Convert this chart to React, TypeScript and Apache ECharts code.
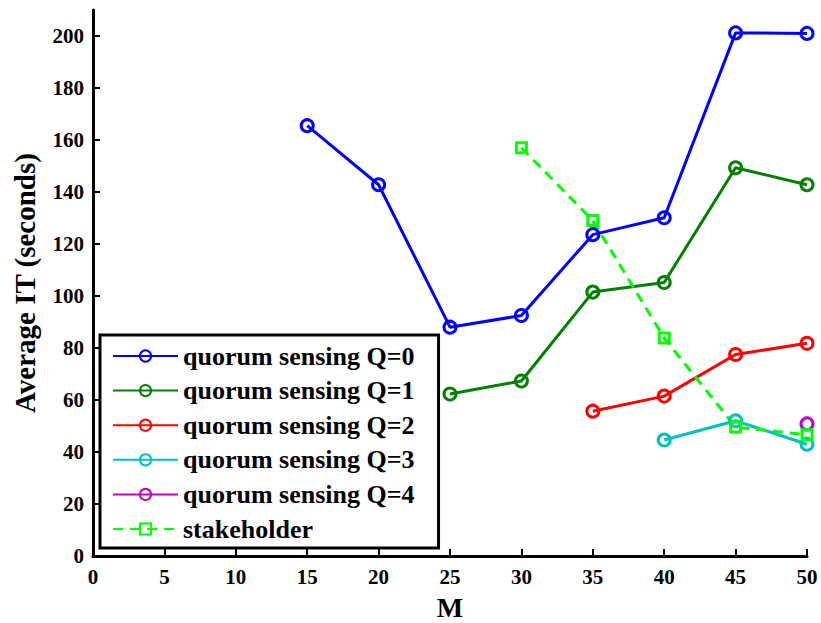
import React, { useEffect, useRef } from "react";
import * as echarts from "echarts";

const q0X = [15, 20, 25, 30, 35, 40, 45, 50];
const q0Y = [165.5, 142.8, 88, 92.5, 123.6, 130.1, 201.2, 201];
const q1X = [25, 30, 35, 40, 45, 50];
const q1Y = [62.3, 67.3, 101.5, 105.2, 149.3, 142.8];
const q2X = [35, 40, 45, 50];
const q2Y = [55.7, 61.5, 77.5, 81.8];
const q3X = [40, 45, 50];
const q3Y = [44.6, 52, 43];
const q4X = [50];
const q4Y = [50.8];
const stX = [30, 35, 40, 45, 50];
const stY = [157, 129, 83.8, 49.6, 46.6];

const seriesNames = [
  "quorum sensing Q=0",
  "quorum sensing Q=1",
  "quorum sensing Q=2",
  "quorum sensing Q=3",
  "quorum sensing Q=4",
  "stakeholder",
];
const seriesColors = ["#0000ff", "#008000", "#ff0000", "#00bfbf", "#bf00bf", "#00ff00"];

const FONT = "'Liberation Serif', 'Times New Roman', serif";

function pairs(xs: number[], ys: number[]) {
  return xs.map((x, i) => [x, ys[i]]);
}

export default function App() {
  const ref = useRef<HTMLDivElement>(null);
  useEffect(() => {
    document.body.style.margin = "0";
    if (!ref.current) return;
    const chart = echarts.init(ref.current, undefined, { renderer: "svg" });
    const allData = [
      pairs(q0X, q0Y),
      pairs(q1X, q1Y),
      pairs(q2X, q2Y),
      pairs(q3X, q3Y),
      pairs(q4X, q4Y),
      pairs(stX, stY),
    ];
    const series = allData.map((d, i) => {
      const isStake = i === 5;
      return {
        name: seriesNames[i],
        type: "line",
        data: d,
        symbol: isStake ? "rect" : "circle",
        symbolSize: isStake ? 10 : 12,
        showAllSymbol: true,
        lineStyle: {
          color: seriesColors[i],
          width: 3,
          type: isStake ? [10, 7] : "solid",
        },
        itemStyle: {
          color: "rgba(255,255,255,0)",
          borderColor: seriesColors[i],
          borderWidth: 3,
        },
        emphasis: { disabled: true },
      };
    });
    chart.setOption({
      animation: false,
      backgroundColor: "#ffffff",
      textStyle: { fontFamily: FONT },
      grid: {
        left: 93,
        right: 14,
        top: 10,
        bottom: 67,
        containLabel: false,
        outerBoundsMode: "none",
      },
      legend: {
        orient: "vertical",
        left: 100,
        top: 335,
        data: seriesNames,
        itemWidth: 65,
        itemHeight: 14,
        itemGap: 8.6,
        padding: [8, 24, 6, 12],
        borderColor: "#000",
        borderWidth: 3,
        backgroundColor: "#fff",
        textStyle: {
          fontFamily: FONT,
          fontWeight: "bold",
          fontSize: 26,
          color: "#000",
          lineHeight: 26,
        },
        selectedMode: false,
      },
      xAxis: {
        type: "value",
        min: 0,
        max: 50,
        interval: 5,
        name: "M",
        nameLocation: "middle",
        nameGap: 37,
        nameTextStyle: { fontFamily: FONT, fontWeight: "bold", fontSize: 28, color: "#000", lineHeight: 28 },
        axisLine: { show: true, onZero: false, lineStyle: { color: "#000", width: 3 } },
        axisTick: { show: true, inside: true, length: 7, lineStyle: { color: "#000", width: 2 } },
        axisLabel: { fontFamily: FONT, fontWeight: "bold", fontSize: 21, color: "#000", margin: 10 },
        splitLine: { show: false },
      },
      yAxis: {
        type: "value",
        min: 0,
        max: 210,
        interval: 20,
        name: "Average IT (seconds)",
        nameLocation: "middle",
        nameGap: 54,
        nameTextStyle: { fontFamily: FONT, fontWeight: "bold", fontSize: 29, color: "#000" },
        axisLine: { show: true, onZero: false, lineStyle: { color: "#000", width: 3 } },
        axisTick: {
          show: true,
          inside: true,
          length: 7,
          lineStyle: { color: "#000", width: 2 },
        },
        axisLabel: {
          fontFamily: FONT,
          fontWeight: "bold",
          fontSize: 21,
          color: "#000",
          margin: 9,
          showMaxLabel: false,
          formatter: (v: number) => (v > 200 ? "" : String(v)),
        },
        splitLine: { show: false },
      },
      series,
    });
    return () => chart.dispose();
  }, []);
  return <div ref={ref} style={{ width: 821, height: 623 }} />;
}
